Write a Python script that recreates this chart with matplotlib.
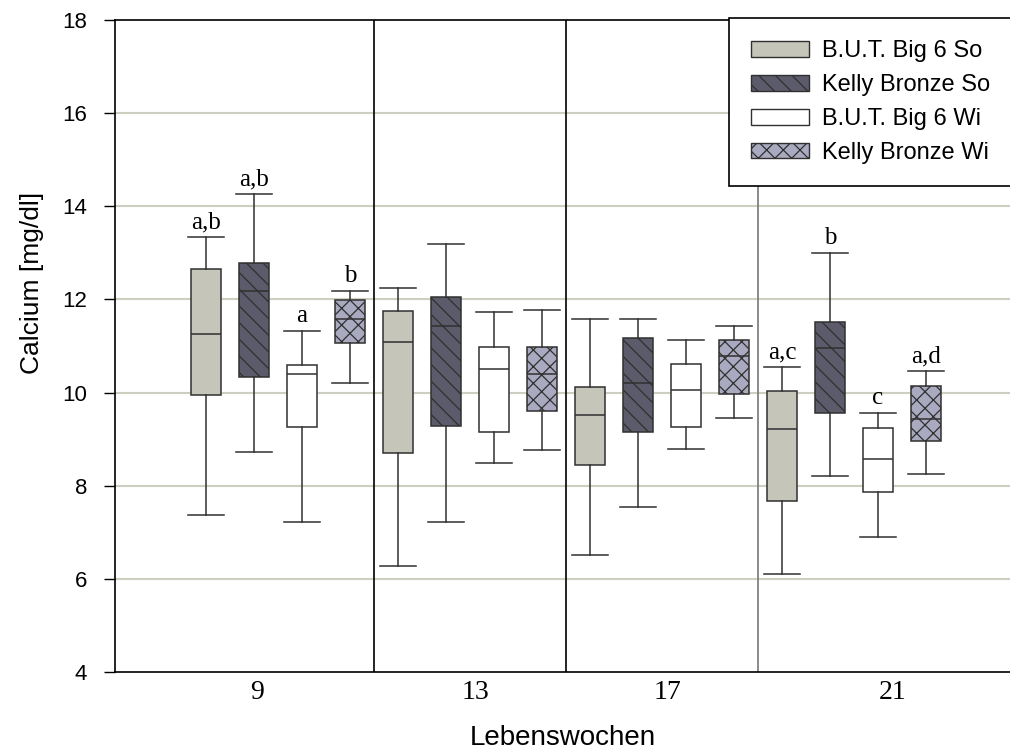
import matplotlib
matplotlib.use("Agg")
import matplotlib.pyplot as plt
from matplotlib.patches import Patch

weeks = ["9", "13", "17", "21"]
series = ["B.U.T. Big 6 So", "Kelly Bronze So", "B.U.T. Big 6 Wi", "Kelly Bronze Wi"]

# box statistics, one value per week
but_so_hi = [13.33, 12.24, 11.57, 10.54]
but_so_q3 = [12.65, 11.75, 10.13, 10.03]
but_so_med = [11.26, 11.08, 9.52, 9.21]
but_so_q1 = [9.95, 8.70, 8.44, 7.67]
but_so_lo = [7.37, 6.28, 6.51, 6.10]

kelly_so_hi = [14.26, 13.18, 11.57, 12.99]
kelly_so_q3 = [12.79, 12.05, 11.17, 11.52]
kelly_so_med = [12.18, 11.44, 10.20, 10.96]
kelly_so_q1 = [10.34, 9.29, 9.15, 9.57]
kelly_so_lo = [8.72, 7.23, 7.54, 8.20]

but_wi_hi = [11.32, 11.72, 11.12, 9.56]
but_wi_q3 = [10.59, 10.98, 10.61, 9.24]
but_wi_med = [10.40, 10.51, 10.06, 8.58]
but_wi_q1 = [9.27, 9.15, 9.26, 7.87]
but_wi_lo = [7.22, 8.49, 8.79, 6.89]

kelly_wi_hi = [12.18, 11.77, 11.44, 10.46]
kelly_wi_q3 = [11.99, 10.98, 11.12, 10.15]
kelly_wi_med = [11.57, 10.40, 10.79, 9.43]
kelly_wi_q1 = [11.06, 9.60, 9.98, 8.97]
kelly_wi_lo = [10.21, 8.77, 9.45, 8.25]

# significance letters above the upper whisker
but_so_sig = ["a,b", "", "", "a,c"]
kelly_so_sig = ["a,b", "", "", "b"]
but_wi_sig = ["a", "", "", "c"]
kelly_wi_sig = ["b", "", "", "a,d"]

all_stats = [
    (but_so_lo, but_so_q1, but_so_med, but_so_q3, but_so_hi, but_so_sig),
    (kelly_so_lo, kelly_so_q1, kelly_so_med, kelly_so_q3, kelly_so_hi, kelly_so_sig),
    (but_wi_lo, but_wi_q1, but_wi_med, but_wi_q3, but_wi_hi, but_wi_sig),
    (kelly_wi_lo, kelly_wi_q1, kelly_wi_med, kelly_wi_q3, kelly_wi_hi, kelly_wi_sig),
]

colors = ["#c5c5b9", "#5b5b6b", "#ffffff", "#a9a9bf"]
hatches = [None, "\\\\", None, "xx"]
offsets = [-0.375, -0.125, 0.125, 0.375]
tick_pos = [-0.11, 1.03, 2.03, 3.2]

plt.rcParams["hatch.linewidth"] = 0.9
plt.rcParams["hatch.color"] = "black"

fig = plt.figure(figsize=(10.1, 7.51), dpi=100)
ax = fig.add_axes([115 / 1010, 1 - 672 / 751, 1 - 115 / 1010, (672 - 20) / 751])

for y in range(6, 18, 2):
    ax.axhline(y, color="#cfcfc1", lw=1.5, zorder=0)
for x, c in zip([0.5, 1.5, 2.5], ["black", "black", "#777777"]):
    ax.axvline(x, color=c, lw=1.2, zorder=0)

edge = "#303030"
for k, (lo, q1, med, q3, hi, sig) in enumerate(all_stats):
    stats = [dict(whislo=lo[i], q1=q1[i], med=med[i], q3=q3[i], whishi=hi[i], fliers=[])
             for i in range(len(weeks))]
    pos = [i + offsets[k] for i in range(len(weeks))]
    ax.bxp(stats, positions=pos, widths=0.152, capwidths=0.19, patch_artist=True,
           showfliers=False, manage_ticks=False,
           boxprops=dict(facecolor=colors[k], edgecolor=edge, linewidth=1.1, hatch=hatches[k]),
           medianprops=dict(color=edge, linewidth=1.1),
           whiskerprops=dict(color=edge, linewidth=1.1),
           capprops=dict(color=edge, linewidth=1.1))
    for i, s in enumerate(sig):
        if s:
            ax.annotate(s, (pos[i], hi[i]), xytext=(0, 3), textcoords="offset points",
                        ha="center", va="bottom", fontsize=18, family="Liberation Serif")

ax.set_xlim(-0.849, 3.8125)
ax.set_ylim(4, 18)
ax.set_yticks(range(4, 19, 2))
ax.set_xticks(tick_pos)
ax.set_xticklabels(weeks, family="Liberation Serif", fontsize=20)
ax.tick_params(axis="x", length=0, pad=6)
ax.tick_params(axis="y", length=8, width=1, labelsize=16, pad=12)
for t in ax.get_yticklabels():
    t.set_family("Liberation Sans")
ax.spines["right"].set_visible(False)
for s in ["left", "bottom", "top"]:
    ax.spines[s].set_linewidth(1.2)

ax.set_ylabel("Calcium [mg/dl]", family="Liberation Sans", fontsize=19)
ax.yaxis.set_label_coords(-0.079, 0.597)
ax.set_xlabel("Lebenswochen", family="Liberation Sans", fontsize=20, labelpad=14)

handles = [Patch(facecolor=colors[k], edgecolor=edge, hatch=hatches[k], linewidth=1.0)
           for k in range(4)]
leg = fig.legend(handles, series, loc="upper left", bbox_to_anchor=(729 / 1010, 1 - 18 / 751),
                 prop={"family": "Liberation Sans", "size": 17}, frameon=True, fancybox=False,
                 edgecolor="black", framealpha=1, borderpad=0.95, handlelength=2.45,
                 handleheight=0.65, handletextpad=0.55, labelspacing=0.5, borderaxespad=0)
leg.get_frame().set_linewidth(1.2)

fig.savefig("out.png", dpi=100)
